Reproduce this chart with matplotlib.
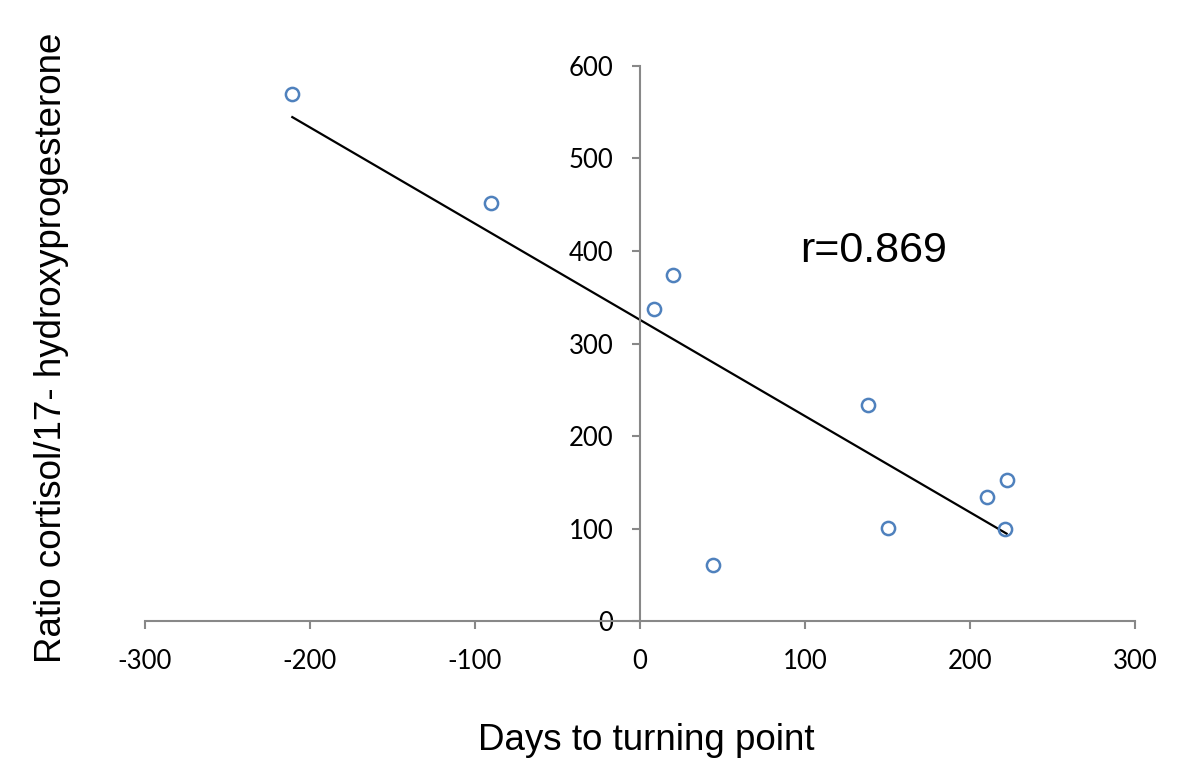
import numpy as np
import matplotlib
matplotlib.use("Agg")
import matplotlib.pyplot as plt

plt.rcParams['axes.unicode_minus'] = False

# datos
dias = np.array([-210.7, -90.3, 8.7, 19.8, 44.4, 138.4, 150.1, 210.3, 222.2, 221.0])
ratio = np.array([570.0, 451.6, 337.0, 373.7, 60.5, 233.0, 101.0, 134.0, 152.8, 99.8])
x_ticks = [-300, -200, -100, 0, 100, 200, 300]
y_ticks = [0, 100, 200, 300, 400, 500, 600]
texto_r = 'r=0.869'

fig = plt.figure(figsize=(12, 7.8), dpi=100)
ax = fig.add_axes([0.1208, 0.2038, 0.825, 0.7116])

# puntos y recta de regresion
ax.plot(dias, ratio, 'o', markersize=9.5, markerfacecolor='none',
        markeredgecolor='#4F81BD', markeredgewidth=1.8, zorder=3)
coef = np.polyfit(dias, ratio, 1)
xs = np.array([dias.min(), dias.max()])
ax.plot(xs, np.polyval(coef, xs), color='black', linewidth=1.6, zorder=2)

ax.set_xlim(-300, 300)
ax.set_ylim(0, 600)
ax.set_xticks(x_ticks)
ax.set_yticks(y_ticks)

# ejes cruzando en el origen
ax.spines['left'].set_position(('data', 0))
ax.spines['bottom'].set_position(('data', 0))
ax.spines['right'].set_visible(False)
ax.spines['top'].set_visible(False)
for s in ['left', 'bottom']:
    ax.spines[s].set_color('#888888')
    ax.spines[s].set_linewidth(1.5)

ax.tick_params(axis='both', color='#888888', width=1.5, length=6,
               labelsize=18.5)
ax.tick_params(axis='x', pad=14)
ax.tick_params(axis='y', pad=13)
for lab in ax.get_xticklabels() + ax.get_yticklabels():
    lab.set_fontfamily('Lato')

ax.text(97, 400, texto_r, fontsize=31, family='Liberation Sans',
        ha='left', va='center')

fig.text(646 / 1200, 1 - 740 / 780, 'Days to turning point', fontsize=26.5,
         family='Liberation Sans', ha='center', va='center')
fig.text(52 / 1200, 1 - 348 / 780, 'Ratio cortisol/17- hydroxyprogesterone',
         fontsize=26.5, family='Liberation Sans', rotation=90,
         ha='center', va='center')

fig.savefig('out.png', dpi=100)
